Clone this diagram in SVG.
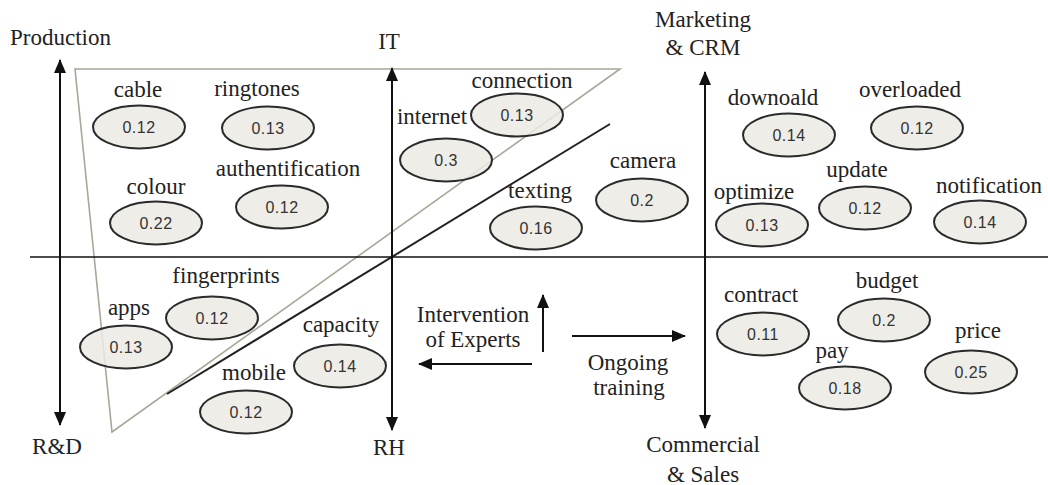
<svg xmlns="http://www.w3.org/2000/svg" width="1048" height="485" viewBox="0 0 1048 485">
  <style>
    .lbl { font-family: "Liberation Serif", "Times New Roman", serif; font-size: 23px; fill: #222; text-anchor: middle; }
    .val { font-family: "Liberation Sans", Arial, sans-serif; font-size: 16px; fill: #333; text-anchor: middle; letter-spacing: 0.5px; }
    .bub { fill: #eceae4; fill-opacity: 0.85; stroke: #2a2a2a; stroke-width: 2; }
    .axis { stroke: #111; stroke-width: 2; fill: none; }
    .arr { stroke: #111; stroke-width: 2; fill: none; marker-end: url(#head); }
  </style>
  <defs>
    <marker id="head" viewBox="0 0 14 12" markerWidth="14" markerHeight="12" refX="13" refY="6" orient="auto-start-reverse" markerUnits="userSpaceOnUse">
      <path d="M0,0 L14,6 L0,12 z" fill="#111"/>
    </marker>
  </defs>
  <rect width="1048" height="485" fill="#ffffff"/>

  <!-- quadrant frame, grouping triangle and separators -->
  <g id="connectors">
    <polygon points="75,69 620,69 112,432" fill="none" stroke="#a8a798" stroke-width="1.6"/>
    <line x1="167" y1="394" x2="610" y2="124" stroke="#222" stroke-width="2"/>
    <line x1="30" y1="257" x2="1048" y2="257" stroke="#111" stroke-width="1.6"/>
    <line class="axis" x1="60" y1="243" x2="60" y2="60" marker-end="url(#head)"/>
    <line class="axis" x1="60" y1="243" x2="60" y2="425" marker-end="url(#head)"/>
    <line class="axis" x1="392" y1="250" x2="392" y2="68" marker-end="url(#head)"/>
    <line class="axis" x1="392" y1="250" x2="392" y2="430" marker-end="url(#head)"/>
    <line class="axis" x1="705" y1="250" x2="705" y2="72" marker-end="url(#head)"/>
    <line class="axis" x1="705" y1="250" x2="705" y2="428" marker-end="url(#head)"/>
    <line class="arr" x1="543" y1="352" x2="543" y2="295"/>
    <line class="arr" x1="532" y1="364" x2="419" y2="364"/>
    <line class="arr" x1="572" y1="336" x2="685" y2="336"/>
  </g>

  <!-- axis captions -->
  <g id="axis-labels">
    <text class="lbl" x="10" y="45" style="text-anchor:start">Production</text>
    <text class="lbl" x="389" y="49">IT</text>
    <text class="lbl" x="703" y="27">Marketing</text>
    <text class="lbl" x="703" y="55">&amp; CRM</text>
    <text class="lbl" x="57" y="454">R&amp;D</text>
    <text class="lbl" x="389" y="455">RH</text>
    <text class="lbl" x="703" y="452">Commercial</text>
    <text class="lbl" x="703" y="482">&amp; Sales</text>
    <text class="lbl" x="473" y="322">Intervention</text>
    <text class="lbl" x="473" y="347">of Experts</text>
    <text class="lbl" x="628" y="370">Ongoing</text>
    <text class="lbl" x="629" y="395">training</text>
  </g>

  <!-- keyword bubbles -->
  <g id="n-cable"><text class="lbl" x="138" y="97">cable</text><ellipse class="bub" cx="139" cy="127" rx="46" ry="21.5"/><text class="val" x="139" y="133">0.12</text></g>
  <g id="n-ringtones"><text class="lbl" x="257" y="96">ringtones</text><ellipse class="bub" cx="268" cy="128" rx="46" ry="21.5"/><text class="val" x="268" y="134">0.13</text></g>
  <g id="n-colour"><text class="lbl" x="156" y="194">colour</text><ellipse class="bub" cx="156" cy="223" rx="46" ry="21.5"/><text class="val" x="156" y="229">0.22</text></g>
  <g id="n-authentification"><text class="lbl" x="288" y="176">authentification</text><ellipse class="bub" cx="282" cy="207" rx="46" ry="21.5"/><text class="val" x="282" y="213">0.12</text></g>
  <g id="n-internet"><text class="lbl" x="432" y="124">internet</text><ellipse class="bub" cx="446" cy="160" rx="46" ry="21.5"/><text class="val" x="446" y="166">0.3</text></g>
  <g id="n-connection"><text class="lbl" x="522" y="88">connection</text><ellipse class="bub" cx="517" cy="115" rx="46" ry="21.5"/><text class="val" x="517" y="121">0.13</text></g>
  <g id="n-camera"><text class="lbl" x="643" y="168">camera</text><ellipse class="bub" cx="642" cy="200" rx="46" ry="21.5"/><text class="val" x="642" y="206">0.2</text></g>
  <g id="n-texting"><text class="lbl" x="540" y="198">texting</text><ellipse class="bub" cx="536" cy="228" rx="46" ry="21.5"/><text class="val" x="536" y="234">0.16</text></g>
  <g id="n-downoald"><text class="lbl" x="773" y="105">downoald</text><ellipse class="bub" cx="789" cy="135" rx="46" ry="21.5"/><text class="val" x="789" y="141">0.14</text></g>
  <g id="n-overloaded"><text class="lbl" x="910" y="97">overloaded</text><ellipse class="bub" cx="917" cy="128" rx="46" ry="21.5"/><text class="val" x="917" y="134">0.12</text></g>
  <g id="n-optimize"><text class="lbl" x="754" y="199">optimize</text><ellipse class="bub" cx="762" cy="225" rx="46" ry="21.5"/><text class="val" x="762" y="231">0.13</text></g>
  <g id="n-update"><text class="lbl" x="857" y="177">update</text><ellipse class="bub" cx="865" cy="208" rx="46" ry="21.5"/><text class="val" x="865" y="214">0.12</text></g>
  <g id="n-notification"><text class="lbl" x="989" y="193">notification</text><ellipse class="bub" cx="980" cy="222" rx="46" ry="21.5"/><text class="val" x="980" y="228">0.14</text></g>
  <g id="n-fingerprints"><text class="lbl" x="226" y="283">fingerprints</text><ellipse class="bub" cx="212" cy="318" rx="46" ry="21.5"/><text class="val" x="212" y="324">0.12</text></g>
  <g id="n-apps"><text class="lbl" x="129" y="315">apps</text><ellipse class="bub" cx="126" cy="347" rx="46" ry="21.5"/><text class="val" x="126" y="353">0.13</text></g>
  <g id="n-capacity"><text class="lbl" x="341" y="332">capacity</text><ellipse class="bub" cx="340" cy="366" rx="46" ry="21.5"/><text class="val" x="340" y="372">0.14</text></g>
  <g id="n-mobile"><text class="lbl" x="254" y="380">mobile</text><ellipse class="bub" cx="246" cy="412" rx="46" ry="21.5"/><text class="val" x="246" y="418">0.12</text></g>
  <g id="n-contract"><text class="lbl" x="761" y="302">contract</text><ellipse class="bub" cx="763" cy="334" rx="46" ry="21.5"/><text class="val" x="763" y="340">0.11</text></g>
  <g id="n-budget"><text class="lbl" x="887" y="288">budget</text><ellipse class="bub" cx="884" cy="320" rx="46" ry="21.5"/><text class="val" x="884" y="326">0.2</text></g>
  <g id="n-pay"><text class="lbl" x="832" y="358">pay</text><ellipse class="bub" cx="845" cy="388" rx="46" ry="21.5"/><text class="val" x="845" y="394">0.18</text></g>
  <g id="n-price"><text class="lbl" x="978" y="338">price</text><ellipse class="bub" cx="971" cy="372" rx="46" ry="21.5"/><text class="val" x="971" y="378">0.25</text></g>
</svg>
